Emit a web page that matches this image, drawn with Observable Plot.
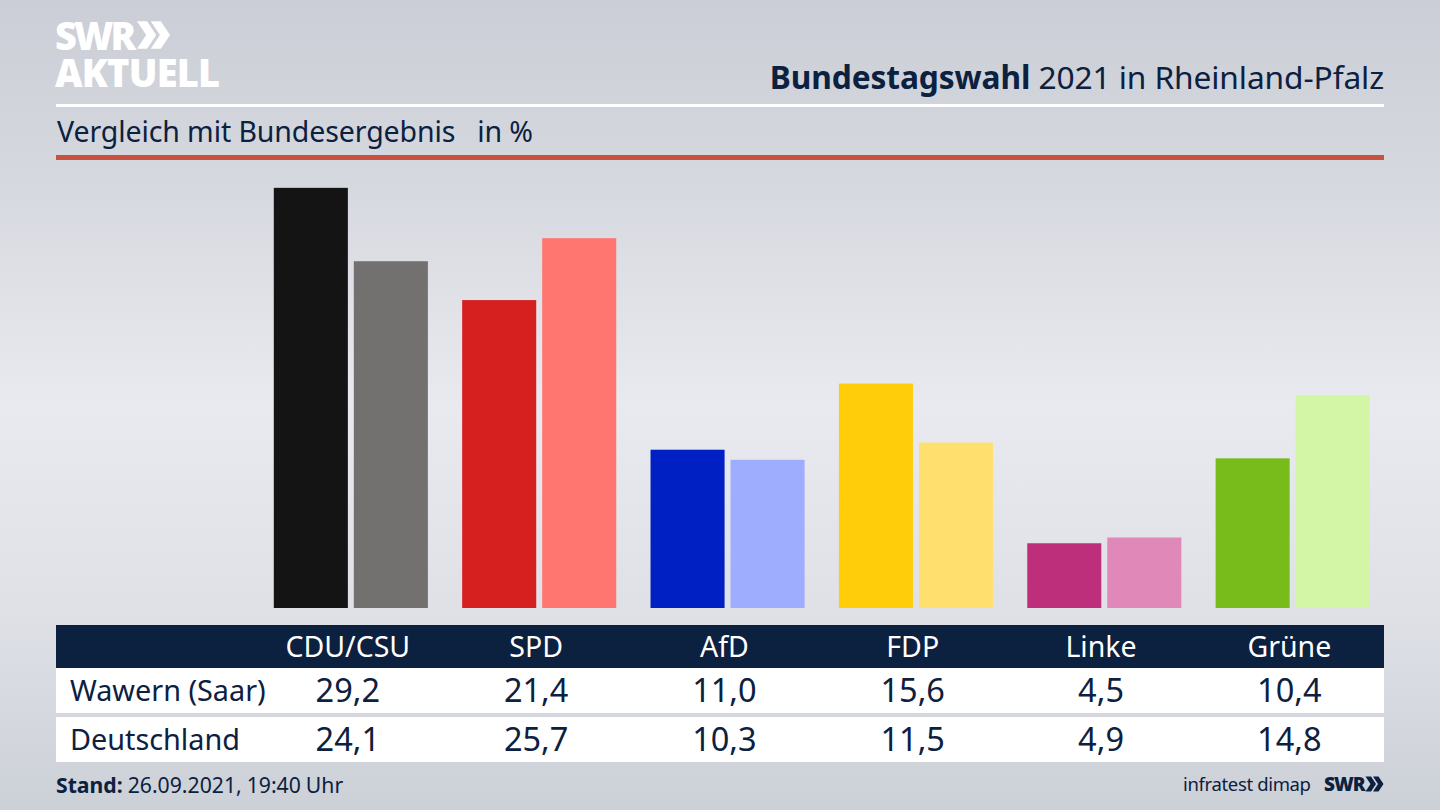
<!DOCTYPE html>
<html lang="de">
<head>
<meta charset="utf-8">
<script src="https://cdn.jsdelivr.net/npm/d3@7"></script>
<script src="https://cdn.jsdelivr.net/npm/@observablehq/plot@0.6"></script>
<style>
html,body{margin:0;padding:0;width:1440px;height:810px;overflow:hidden}
body{position:relative;font-family:"Noto Sans",sans-serif;color:#0c2040;
 background:linear-gradient(180deg,#cbced6 0%,#d6d8df 22%,#e9eaef 50%,#dfe1e7 75%,#ccd0d7 100%)}
.abs{position:absolute;white-space:nowrap}
#logo1,#logo2{color:#fff;font-family:"Open Sans",sans-serif;font-weight:800;line-height:.9}
#logo1{left:55px;top:18px;font-size:38px;letter-spacing:-2.9px}
#logo2{left:55px;top:55px;font-size:38px;letter-spacing:-.8px}
#chev{left:137px;top:20px}
#title{right:56px;top:57px;font-size:31.7px;line-height:40px;letter-spacing:-.1px}
#title b{font-weight:700}
#r1{left:56px;top:104px;width:1328px;height:3px;background:#fff}
#subtitle{left:57px;top:112px;font-size:28.5px;line-height:38px;letter-spacing:-.1px;white-space:pre}
#r2{left:56px;top:155px;width:1328px;height:5px;background:#c8513f}
#chart{left:0;top:170px}
#chart svg{display:block;background:transparent}
.row{position:absolute;left:56px;width:1328px;display:grid;grid-template-columns:197.7px repeat(6,188.3px);align-items:center;text-align:center;white-space:nowrap}
.row div{position:relative;top:-1px}
.row div:first-child{text-align:left;padding-left:15px;font-size:28.8px;margin-left:-1px}
#head{top:625px;height:43px;background:#0c2040;color:#fff;font-size:28.5px}
#rowA{top:668px;height:45px;background:#fff;font-size:32.5px}
#rowB{top:717px;height:45px;background:#fff;font-size:32.5px}
#stand{left:56px;top:770px;font-size:21.2px;line-height:30px;word-spacing:-.5px}
#stand b{font-weight:700}
#source{left:1183px;top:769px;font-size:18.5px;line-height:30px;letter-spacing:-.35px}
#swr{left:1324px;top:769px;font-family:"Open Sans",sans-serif;font-weight:800;font-size:19px;line-height:30px;letter-spacing:-1px}
#chev2{left:1365px;top:776px}
</style>
</head>
<body>
<div class="abs" id="logo1">SWR</div>
<svg class="abs" id="chev" width="33" height="30" viewBox="0 0 36 32"><path fill="#fff" d="M0 1h11l10 15-10 15H0l10-15zM15 1h11l10 15-10 15H15l10-15z"/></svg>
<div class="abs" id="logo2">AKTUELL</div>
<div class="abs" id="title"><b>Bundestagswahl</b> 2021 in Rheinland-Pfalz</div>
<div class="abs" id="r1"></div>
<div class="abs" id="subtitle">Vergleich mit Bundesergebnis   in %</div>
<div class="abs" id="r2"></div>
<div class="abs" id="chart"></div>
<div class="row" id="head"></div>
<div class="row" id="rowA"></div>
<div class="row" id="rowB"></div>
<div class="abs" id="stand"><b>Stand:</b> 26.09.2021, 19:40 Uhr</div>
<div class="abs" id="source">infratest dimap</div>
<div class="abs" id="swr">SWR</div>
<svg class="abs" id="chev2" width="19" height="16" viewBox="0 0 36 32"><path fill="#0c2040" d="M0 1h11l10 15-10 15H0l10-15zM15 1h11l10 15-10 15H15l10-15z"/></svg>
<script>
const parties = ["CDU/CSU", "SPD", "AfD", "FDP", "Linke", "Grüne"];
const seriesNames = ["Wawern (Saar)", "Deutschland"];
const wawern = [29.2, 21.4, 11.0, 15.6, 4.5, 10.4];
const deutschland = [24.1, 25.7, 10.3, 11.5, 4.9, 14.8];
const wawernColors = ["#141414", "#d6201f", "#0020c4", "#ffcd0a", "#bd2f7a", "#78bc1b"];
const deutschlandColors = ["#72716f", "#ff7570", "#9fadff", "#ffe06e", "#e088b8", "#d3f5a6"];

const rows = parties.flatMap((party, i) => [
  {party, series: seriesNames[0], value: wawern[i], color: wawernColors[i]},
  {party, series: seriesNames[1], value: deutschland[i], color: deutschlandColors[i]}
]);

const chart = Plot.plot({
  width: 1440,
  height: 438,
  marginTop: 0, marginBottom: 0, marginLeft: 273.8, marginRight: 70.3,
  style: {background: "transparent"},
  fx: {domain: parties, axis: null, paddingInner: 0.182, paddingOuter: 0, round: false, label: null},
  x: {domain: seriesNames, axis: null, paddingInner: 0.0745, paddingOuter: 0, round: false, label: null},
  y: {domain: [0, 30.44], axis: null, label: null},
  color: {type: "identity"},
  marks: [
    Plot.barY(rows, {fx: "party", x: "series", y: "value", fill: "color"})
  ]
});
document.getElementById("chart").append(chart);

const fmt = v => v.toFixed(1).replace(".", ",");
function fill(id, first, cells) {
  const el = document.getElementById(id);
  [first, ...cells].forEach(t => {
    const d = document.createElement("div");
    d.textContent = t;
    el.append(d);
  });
}
fill("head", "", parties);
fill("rowA", seriesNames[0], wawern.map(fmt));
fill("rowB", seriesNames[1], deutschland.map(fmt));
</script>
</body>
</html>
